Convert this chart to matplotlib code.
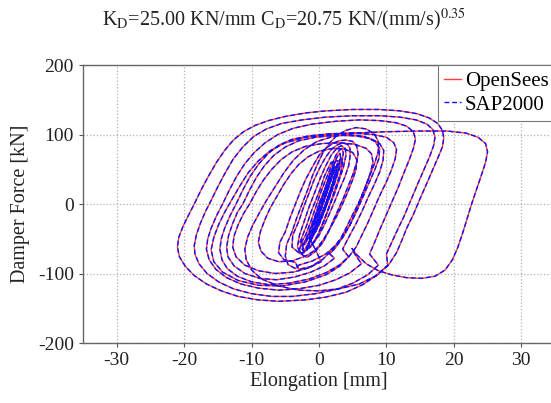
import numpy as np
import matplotlib
matplotlib.use("Agg")
import matplotlib.pyplot as plt

# damper hysteresis, (elongation [mm], force [kN]) for each cycle of the record
cycle_a = [(0.0, 0), (0.5, 10), (1.0, 20), (1.6, 32), (2.0, 40), (2.3, 38), (1.9, 25), (1.5, 12), (0.9, -4),
           (0.3, -20), (-0.3, -32), (-0.8, -40), (-1.0, -42)]
cycle_b = [(-1.5, -50), (-1.0, -36), (-0.5, -20), (0.2, -2), (0.8, 15), (1.4, 32), (2.0, 46), (2.4, 52),
           (2.6, 50), (2.4, 40), (2.0, 28), (1.4, 12), (0.8, -5), (0.1, -21), (-0.5, -35), (-1.4, -50)]
cycle_7 = [(-0.5, -66), (-2.0, -75), (-4.0, -82), (-6.0, -83), (-7.6, -78), (-8.6, -68), (-9.0, -55),
           (-8.7, -40), (-8.0, -22), (-7.2, -5), (-6.3, 10), (-5.3, 27), (-4.2, 43), (-3.0, 57), (-1.6, 68),
           (0.0, 76), (2.0, 80), (3.8, 79), (5.0, 74), (5.6, 64), (5.5, 50), (5.0, 35), (4.3, 18), (3.5, 0),
           (2.6, -18), (1.6, -36), (0.6, -52), (-0.5, -66)]
cycle_6 = [(0.3, -83), (-1.5, -92), (-3.8, -98), (-6.5, -100), (-9.0, -96), (-11.0, -88),
           (-12.3, -76), (-12.8, -62), (-12.6, -46), (-12.0, -30), (-11.2, -14), (-10.3, 0), (-9.3, 18),
           (-8.2, 35), (-7.0, 50), (-5.6, 64), (-4.0, 75), (-2.0, 83), (0.5, 87), (3.0, 88), (5.3, 86),
           (7.0, 80), (7.8, 72), (8.0, 60), (7.6, 44), (7.0, 28), (6.3, 10), (5.5, -10), (4.6, -30),
           (3.6, -47), (2.6, -61), (1.6, -72)]
cycle_5 = [(2.3, -78), (0.8, -89), (-1.2, -98), (-3.6, -105), (-6.3, -109), (-8.8, -107),
           (-11.0, -100), (-12.6, -89), (-13.5, -76), (-13.7, -62), (-13.4, -45), (-12.8, -28), (-12.1, -12),
           (-11.3, 0), (-10.3, 20), (-9.3, 38), (-8.1, 55), (-6.7, 70), (-5.0, 82), (-3.0, 91), (-0.5, 96),
           (2.5, 99), (5.5, 98), (7.7, 94), (9.0, 87), (9.6, 77), (9.5, 63), (9.0, 46), (8.2, 28), (7.3, 10),
           (6.4, -10), (5.4, -30), (4.4, -48), (3.5, -65)]
cycle_4 = [(4.4, -76), (3.0, -88), (1.0, -99), (-1.5, -108), (-4.5, -114), (-7.5, -116),
           (-10.0, -112), (-12.1, -104), (-13.6, -93), (-14.4, -80), (-14.7, -65), (-14.5, -50), (-14.0, -35),
           (-13.2, -17), (-12.3, 0), (-11.3, 20), (-10.2, 40), (-8.9, 58), (-7.5, 73), (-5.9, 85), (-4.0, 93),
           (-1.5, 98), (1.5, 101), (5.0, 102), (8.0, 100), (10.0, 96), (11.1, 88), (11.5, 78), (11.3, 65),
           (10.7, 48), (9.9, 30), (9.0, 12), (8.1, -8), (7.2, -28), (6.3, -46), (5.5, -62)]
cycle_wide = [(4.5, -75), (3.0, -90), (1.0, -102), (-2.0, -112), (-5.5, -118), (-9.0, -117), (-12.0, -110),
              (-14.3, -98), (-15.6, -83), (-16.0, -66), (-15.6, -48), (-14.9, -30), (-14.0, -12), (-13.0, 5),
              (-11.8, 25), (-10.5, 45), (-9.0, 62), (-7.2, 77), (-5.0, 88), (-2.0, 96), (1.5, 100), (5.0, 102),
              (10.0, 104), (15.0, 105), (19.0, 105), (21.8, 102), (23.6, 96), (24.7, 87), (25.0, 75),
              (24.7, 60), (24.1, 42), (23.4, 22), (22.7, 2), (22.0, -20), (21.3, -42), (20.6, -62),
              (19.8, -80), (18.7, -95), (17.2, -104), (15.2, -107), (13.0, -106), (10.8, -102), (8.8, -96),
              (7.0, -86), (5.6, -73), (4.9, -64), (5.3, -72)]
cycle_3 = [(6.3, -86), (4.6, -99), (2.5, -109), (0.0, -117), (-3.0, -122), (-6.0, -124),
           (-9.0, -121), (-11.6, -115), (-13.7, -106), (-15.3, -94), (-16.3, -80), (-16.7, -65), (-16.5, -50),
           (-16.0, -35), (-15.2, -17), (-14.3, 0), (-13.3, 20), (-12.2, 40), (-11.0, 58), (-9.6, 74),
           (-8.0, 88), (-6.1, 100), (-3.8, 109), (-1.0, 115), (2.5, 119), (6.0, 121), (9.0, 120), (11.4, 117),
           (13.0, 112), (14.0, 104), (14.3, 93), (14.0, 80), (13.4, 64), (12.6, 45), (11.8, 25), (10.9, 5),
           (10.0, -15), (9.1, -35), (8.3, -54), (7.5, -72)]
cycle_2 = [(8.8, -88), (7.2, -102), (5.0, -114), (2.5, -123), (-0.5, -129), (-4.0, -133),
           (-7.0, -133), (-10.0, -129), (-12.7, -122), (-14.9, -112), (-16.6, -100), (-17.8, -86),
           (-18.4, -72), (-18.5, -60), (-18.2, -45), (-17.6, -28), (-16.8, -10), (-16.0, 5), (-15.0, 25),
           (-13.9, 45), (-12.7, 65), (-11.3, 82), (-9.7, 97), (-7.8, 108), (-5.5, 116), (-2.5, 121), (1.0, 125),
           (5.0, 127), (9.0, 127), (12.0, 125), (14.4, 121), (16.0, 115), (16.9, 107), (17.2, 96), (17.0, 84),
           (16.4, 68), (15.5, 48), (14.6, 28), (13.6, 5), (12.6, -18), (11.6, -38), (10.8, -55), (10.0, -72)]
cycle_1 = [(10.2, -88), (8.5, -103), (6.5, -116), (4.0, -127), (1.0, -134), (-2.0, -138),
           (-6.0, -140), (-9.0, -138), (-12.0, -133), (-14.5, -125), (-16.7, -115), (-18.5, -103),
           (-19.8, -90), (-20.7, -76), (-21.0, -62), (-20.8, -48), (-20.2, -33), (-19.4, -17), (-18.5, 0),
           (-17.5, 20), (-16.4, 40), (-15.2, 60), (-14.0, 77), (-12.7, 92), (-11.2, 104), (-9.5, 113),
           (-7.5, 120), (-5.0, 126), (-2.0, 131), (1.0, 134), (5.0, 136), (9.0, 136), (12.0, 134), (14.5, 130),
           (16.3, 124), (17.6, 116), (18.3, 106), (18.5, 95), (18.3, 82), (17.7, 68), (16.9, 50), (16.0, 30),
           (15.0, 8), (14.0, -15), (13.0, -35), (12.3, -52), (11.5, -70)]
cycle_decay = [(10.3, -88), (8.5, -103), (6.0, -115), (3.0, -122), (0.0, -125), (-3.0, -124), (-6.0, -118),
               (-8.5, -108), (-10.0, -95), (-10.8, -80), (-11.0, -65), (-10.6, -48), (-9.8, -30), (-8.8, -12),
               (-7.8, 5), (-6.5, 25), (-5.2, 45), (-3.8, 63), (-2.2, 78), (-0.3, 90), (2.0, 97), (4.5, 100),
               (6.8, 97), (8.3, 90), (9.0, 80), (8.9, 66), (8.3, 50), (7.5, 32), (6.6, 12), (5.7, -8),
               (4.7, -28), (3.6, -46), (2.4, -60), (1.0, -72), (-1.0, -82), (-3.0, -88)]
cycle_8 = [(-3.5, -93), (-4.6, -87), (-5.0, -75), (-4.8, -58), (-4.0, -40), (-3.3, -20), (-2.5, 0),
           (-1.7, 20), (-1.0, 40), (-0.2, 58), (0.6, 74), (1.6, 88), (2.7, 99), (4.0, 106), (5.5, 110),
           (7.0, 108), (8.2, 101), (8.8, 90), (8.8, 76), (8.3, 60), (7.5, 40), (6.7, 20), (5.8, 0), (5.0, -15),
           (4.1, -33), (3.2, -50), (2.0, -66), (0.5, -80), (-1.2, -90), (-3.0, -94)]
cycle_9 = [(-3.5, -84), (-5.2, -80), (-6.0, -70), (-5.8, -55), (-5.0, -40), (-4.3, -20), (-3.5, 0),
           (-2.8, 17), (-2.0, 35), (-1.0, 53), (0.0, 70), (1.0, 80), (2.0, 87), (3.0, 91), (4.0, 92), (5.0, 90),
           (5.6, 83), (5.8, 72), (5.6, 60), (5.0, 42), (4.3, 25), (3.6, 8), (3.0, -5), (2.2, -22), (1.5, -38),
           (0.6, -55), (-0.5, -68), (-1.8, -77)]
cycle_10 = [(-3.0, -70), (-4.0, -62), (-3.9, -45), (-3.0, -25), (-2.3, -5), (-1.5, 15), (-0.8, 33), (0.0, 50),
            (0.9, 66), (1.8, 78), (2.7, 85), (3.5, 88), (4.2, 86), (4.6, 80), (4.6, 68), (4.4, 55), (3.8, 38),
            (3.0, 20), (2.3, 3), (1.5, -15), (0.8, -30), (0.0, -45), (-1.0, -58), (-2.0, -66)]
cycle_11 = [(-2.6, -72), (-3.2, -62), (-2.9, -45), (-2.2, -25), (-1.5, -5), (-0.7, 15), (0.1, 35), (0.9, 53),
            (1.8, 70), (2.6, 80), (3.3, 84), (3.9, 80), (4.0, 70), (3.6, 52), (3.0, 35), (2.3, 15), (1.5, -5),
            (0.7, -25), (-0.2, -45), (-1.2, -60), (-2.2, -70)]
cycle_c3 = [(-3.0, -70), (-2.6, -55), (-2.0, -45), (-1.2, -25), (-0.5, -5), (0.2, 15), (1.0, 35), (1.8, 54),
            (2.5, 70), (3.0, 77), (3.4, 80), (3.6, 74), (3.5, 65), (3.0, 50), (2.5, 35), (1.8, 15), (1.0, -5),
            (0.1, -25), (-0.8, -45), (-1.6, -60), (-2.3, -68)]
cycle_c1 = [(-2.5, -65), (-2.0, -52), (-1.5, -40), (-0.7, -20), (0.0, 0), (0.8, 20), (1.5, 40), (2.2, 57),
            (2.7, 68), (3.1, 73), (3.2, 68), (3.0, 55), (2.5, 38), (1.8, 20), (1.0, 0), (0.3, -20), (-0.5, -38),
            (-1.2, -50), (-1.9, -62)]
cycle_c4 = [(-1.8, -66), (-1.2, -52), (-0.6, -35), (0.1, -15), (0.8, 5), (1.5, 25), (2.2, 45), (2.8, 60),
            (3.3, 66), (3.5, 60), (3.2, 45), (2.6, 28), (1.9, 8), (1.2, -12), (0.4, -32), (-0.4, -50),
            (-1.2, -62), (-2.2, -66)]
cycle_c6 = [(-2.8, -55), (-2.3, -42), (-1.8, -30), (-1.2, -12), (-0.5, 5), (0.2, 22), (0.8, 40), (1.4, 52),
            (1.8, 60), (2.2, 60), (2.2, 52), (1.6, 30), (1.0, 12), (0.3, -5), (-0.5, -22), (-1.2, -40),
            (-2.0, -52), (-2.5, -58)]
cycle_c2 = [(-2.0, -58), (-1.5, -44), (-1.0, -30), (-0.3, -12), (0.3, 5), (1.0, 24), (1.6, 42), (2.1, 54),
            (2.5, 62), (2.9, 62), (2.8, 52), (2.2, 35), (1.6, 18), (1.0, 0), (0.3, -17), (-0.4, -35),
            (-1.0, -48), (-1.6, -58)]
cycle_c5 = [(-1.2, -45), (-0.6, -30), (0.0, -12), (0.6, 6), (1.2, 24), (1.8, 40), (2.3, 52), (2.7, 55),
            (2.6, 45), (2.1, 28), (1.5, 10), (0.9, -8), (0.2, -26), (-0.5, -40), (-1.0, -46)]
cycle_c7 = [(-0.5, -30), (0.0, -15), (0.5, 0), (1.0, 15), (1.5, 30), (1.9, 42), (2.2, 50), (2.5, 48),
            (2.3, 38), (1.6, 15), (1.0, 0), (0.4, -15), (-0.1, -25)]

history = [cycle_a, cycle_b, cycle_7, cycle_6, cycle_5, cycle_4, cycle_wide, cycle_3, cycle_2, cycle_1,
           cycle_decay, cycle_8, cycle_9, cycle_10, cycle_11, cycle_c3, cycle_c1, cycle_c4, cycle_c6,
           cycle_c2, cycle_c5, cycle_c7]

pts = np.vstack([np.array(c, dtype=float) for c in history])
elong = pts[:, 0]
force = pts[:, 1]

plt.rcParams['font.family'] = ['Liberation Serif', 'DejaVu Serif']
plt.rcParams['mathtext.fontset'] = 'stix'
plt.rcParams['axes.unicode_minus'] = False

fig = plt.figure(figsize=(5.51, 4.03), dpi=100)
ax = fig.add_axes([83 / 551, 60 / 403, 472 / 551, 278 / 403])

ax.plot(elong, force, color='#ff3b3b', lw=1.0, label='OpenSees', zorder=3)
ax.plot(elong, force, color='#1010ff', lw=1.0, ls=(0, (3.5, 2.0)), label='SAP2000', zorder=4)

ax.set_xlim(-35, 35)
ax.set_ylim(-200, 200)
ax.set_xticks([-30, -20, -10, 0, 10, 20, 30])
ax.set_yticks([-200, -100, 0, 100, 200])
ax.grid(True, ls=':', color='#b0b0b0', lw=0.9)
ax.tick_params(labelsize=14, length=3, color='#555555', labelcolor='#222222')
ax.spines['right'].set_visible(False)
for s in ax.spines.values():
    s.set_color('#666666')
    s.set_linewidth(1.0)

ax.set_xlabel('Elongation [mm]', fontsize=14.5, color='#222222', labelpad=2)
ax.set_ylabel('Damper Force [kN]', fontsize=14.5, color='#222222', labelpad=6)

fig.text(284 / 551, 1 - 20 / 403,
         r'K$_{\rm D}$=25.00 KN/mm C$_{\rm D}$=20.75 KN/(mm/s)$^{0.35}$',
         ha='center', va='center', fontsize=14.5, color='#222222')

leg = ax.legend(loc='upper right', bbox_to_anchor=(1.0, 1.0), borderaxespad=0.0,
                fontsize=15, handlelength=0.8, handletextpad=0.2, fancybox=False,
                framealpha=1.0, borderpad=0.3, labelspacing=0.2)
leg.get_frame().set_edgecolor('#777777')
leg.get_frame().set_linewidth(0.8)

fig.savefig('out.png', dpi=100)
